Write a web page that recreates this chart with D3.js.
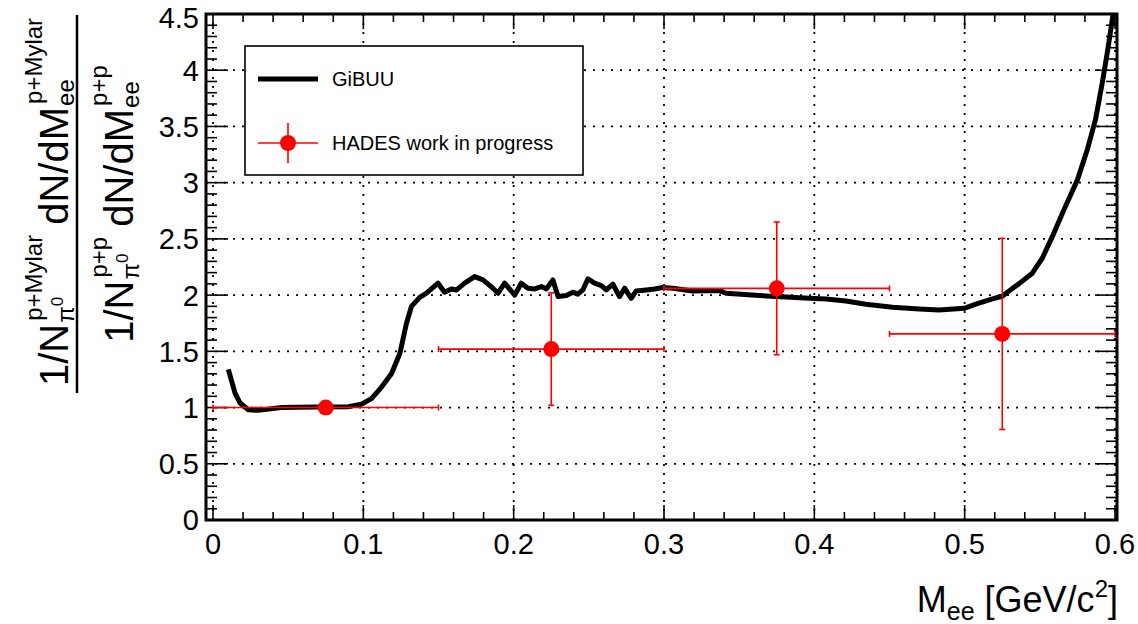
<!DOCTYPE html>
<html><head><meta charset="utf-8">
<script src="https://cdn.jsdelivr.net/npm/d3@7"></script>
<style>
body{margin:0;background:#fff}
svg{display:block}
text{font-family:"Liberation Sans",Arial,Helvetica,sans-serif;fill:#000}
</style>
</head><body>
<svg id="c" width="1138" height="624"></svg>
<script>
// ---------- data ----------
const gibuuX = [0.0102,0.0146,0.018,0.0235,0.030,0.0456,0.068,0.090,0.0988,0.1054,0.112,0.1187,0.1243,0.1287,0.132,0.1375,0.142,0.1497,0.154,0.1586,0.162,0.1674,0.174,0.1796,0.185,0.1896,0.194,0.2007,0.205,0.2095,0.214,0.2184,0.2217,0.2261,0.2295,0.235,0.2394,0.2427,0.246,0.2494,0.2538,0.2583,0.2616,0.266,0.2704,0.2738,0.2782,0.2815,0.2882,0.2937,0.2992,0.3059,0.319,0.337,0.3413,0.3635,0.3745,0.3967,0.4078,0.421,0.4343,0.452,0.4698,0.483,0.4997,0.5074,0.5185,0.525,0.5318,0.536,0.545,0.5517,0.5583,0.566,0.575,0.5815,0.587,0.5915,0.5948,0.5982,0.6005];
const gibuuY = [1.34,1.13,1.04,0.98,0.975,1.0,1.005,1.008,1.03,1.08,1.18,1.30,1.48,1.75,1.90,1.98,2.017,2.106,2.025,2.055,2.046,2.106,2.165,2.135,2.076,2.017,2.106,2.0,2.106,2.061,2.055,2.076,2.055,2.135,1.987,1.996,2.026,2.008,2.046,2.144,2.106,2.085,2.046,2.097,1.987,2.061,1.972,2.037,2.046,2.055,2.067,2.061,2.037,2.04,2.017,1.996,1.987,1.972,1.966,1.948,1.919,1.892,1.877,1.868,1.883,1.919,1.966,1.99,2.06,2.10,2.195,2.33,2.52,2.758,3.025,3.29,3.56,3.885,4.15,4.45,4.65];

const hadesX    = [0.075, 0.225, 0.375, 0.525];
const hadesY    = [1.00, 1.52, 2.06, 1.655];
const hadesXErr = [0.075, 0.075, 0.075, 0.075];
const hadesYErr = [0.00, 0.50, 0.59, 0.85];

const xTickValues = [0, 0.1, 0.2, 0.3, 0.4, 0.5, 0.6];
const xTickLabels = ["0", "0.1", "0.2", "0.3", "0.4", "0.5", "0.6"];
const yTickValues = [0, 0.5, 1, 1.5, 2, 2.5, 3, 3.5, 4, 4.5];
const yTickLabels = ["0", "0.5", "1", "1.5", "2", "2.5", "3", "3.5", "4", "4.5"];
const legendLabels = ["GiBUU", "HADES work in progress"];

// ---------- setup ----------
const svg = d3.select("#c");
const X0 = 206, X1 = 1117, Y0 = 520, Y1 = 14;
const x = d3.scaleLinear().domain([-0.00466, 0.60133]).range([X0, X1]);
const y = d3.scaleLinear().domain([0, 4.5]).range([Y0, Y1]);
const RED = "#ff0000";

svg.append("defs").append("clipPath").attr("id", "plotclip")
  .append("rect").attr("x", X0).attr("y", Y1).attr("width", X1 - X0).attr("height", Y0 - Y1);

// grid
const grid = svg.append("g").attr("stroke", "#000").attr("stroke-width", 1.8).attr("stroke-dasharray", "2,7");
grid.selectAll("line.vx").data(xTickValues).join("line")
  .attr("x1", d => x(d)).attr("x2", d => x(d)).attr("y1", Y0).attr("y2", Y1);
grid.selectAll("line.hy").data(yTickValues).join("line")
  .attr("y1", d => y(d)).attr("y2", d => y(d)).attr("x1", X0).attr("x2", X1);

// ticks
const xMinor = d3.range(0, 31).map(i => i * 0.02);
const yMinor = d3.range(0, 46).map(i => i * 0.1);
const isMajX = v => Math.abs(v * 10 - Math.round(v * 10)) < 1e-6;
const isMajY = v => Math.abs(v * 2 - Math.round(v * 2)) < 1e-6;
const ticks = svg.append("g").attr("stroke", "#000").attr("stroke-width", 1.6);
xMinor.forEach(v => {
  const L = isMajX(v) ? 15 : 8;
  ticks.append("line").attr("x1", x(v)).attr("x2", x(v)).attr("y1", Y0).attr("y2", Y0 - L);
  ticks.append("line").attr("x1", x(v)).attr("x2", x(v)).attr("y1", Y1).attr("y2", Y1 + L);
});
yMinor.forEach(v => {
  const L = isMajY(v) ? 22 : 11;
  ticks.append("line").attr("y1", y(v)).attr("y2", y(v)).attr("x1", X0).attr("x2", X0 + L);
  ticks.append("line").attr("y1", y(v)).attr("y2", y(v)).attr("x1", X1).attr("x2", X1 - L);
});

// tick labels
svg.append("g").selectAll("text").data(xTickValues).join("text")
  .attr("x", d => x(d)).attr("y", 554).attr("text-anchor", "middle")
  .attr("font-size", 29).text((d, i) => xTickLabels[i]);
svg.append("g").selectAll("text").data(yTickValues).join("text")
  .attr("x", 199).attr("y", d => Math.max(y(d), 18)).attr("dy", "0.36em").attr("text-anchor", "end")
  .attr("font-size", 29).text((d, i) => yTickLabels[i]);

// GiBUU curve
const pts = gibuuX.map((v, i) => [v, gibuuY[i]]);
svg.append("path").datum(pts).attr("clip-path", "url(#plotclip)")
  .attr("fill", "none").attr("stroke", "#000").attr("stroke-width", 5)
  .attr("stroke-linejoin", "round")
  .attr("d", d3.line().x(d => x(d[0])).y(d => y(d[1])));

// HADES points
const hd = hadesX.map((v, i) => ({x: v, y: hadesY[i], xe: hadesXErr[i], ye: hadesYErr[i]}));
const hg = svg.append("g").attr("stroke", RED).attr("stroke-width", 1.6);
hd.forEach(d => {
  const cy = y(d.y), xl = x(d.x - d.xe), xr = x(d.x + d.xe);
  hg.append("line").attr("x1", xl).attr("x2", xr).attr("y1", cy).attr("y2", cy);
  hg.append("line").attr("x1", xl).attr("x2", xl).attr("y1", cy - 3).attr("y2", cy + 3);
  hg.append("line").attr("x1", xr).attr("x2", xr).attr("y1", cy - 3).attr("y2", cy + 3);
  if (d.ye > 0) {
    const cx = x(d.x), yt = y(d.y + d.ye), yb = y(d.y - d.ye);
    hg.append("line").attr("x1", cx).attr("x2", cx).attr("y1", yt).attr("y2", yb);
    hg.append("line").attr("x1", cx - 3).attr("x2", cx + 3).attr("y1", yt).attr("y2", yt);
    hg.append("line").attr("x1", cx - 3).attr("x2", cx + 3).attr("y1", yb).attr("y2", yb);
  }
});
svg.append("g").selectAll("circle").data(hd).join("circle")
  .attr("cx", d => x(d.x)).attr("cy", d => y(d.y)).attr("r", 8).attr("fill", RED);

// frame
svg.append("rect").attr("x", X0).attr("y", Y1).attr("width", X1 - X0).attr("height", Y0 - Y1)
  .attr("fill", "none").attr("stroke", "#000").attr("stroke-width", 3);

// legend
const lg = svg.append("g");
lg.append("rect").attr("x", 245).attr("y", 46).attr("width", 338).attr("height", 129)
  .attr("fill", "#fff").attr("stroke", "#000").attr("stroke-width", 1.6);
lg.append("line").attr("x1", 258).attr("x2", 318).attr("y1", 79).attr("y2", 79)
  .attr("stroke", "#000").attr("stroke-width", 5);
lg.append("text").attr("x", 332).attr("y", 86).attr("font-size", 20).text(legendLabels[0]);
lg.append("line").attr("x1", 258).attr("x2", 318).attr("y1", 143).attr("y2", 143)
  .attr("stroke", RED).attr("stroke-width", 1.6);
lg.append("line").attr("x1", 288).attr("x2", 288).attr("y1", 123).attr("y2", 163)
  .attr("stroke", RED).attr("stroke-width", 1.6);
lg.append("circle").attr("cx", 288).attr("cy", 143).attr("r", 8).attr("fill", RED);
lg.append("text").attr("x", 332).attr("y", 150).attr("font-size", 20).text(legendLabels[1]);

// x-axis title
const xt = svg.append("text").attr("x", 1118).attr("y", 612).attr("text-anchor", "end").attr("font-size", 36);
xt.append("tspan").text("M");
xt.append("tspan").attr("font-size", 25).attr("dy", 8).text("ee");
xt.append("tspan").attr("dy", -8).text(" [GeV/c");
xt.append("tspan").attr("font-size", 24).attr("dy", -15).text("2");
xt.append("tspan").attr("dy", 15).text("]");

// y-axis title (fraction, rotated)
const F = 40, f = 24;
function fracLine(baseX, centerY, supTxt) {
  const g = svg.append("g");
  let cur = 0;
  function base(t) {
    const e = g.append("text").attr("x", cur).attr("y", 0).attr("font-size", F).text(t);
    cur += e.node().getComputedTextLength();
  }
  function script(sup, sub, subsup) {
    const s = g.append("text").attr("x", cur + 3).attr("y", -26).attr("font-size", f).text(sup);
    const b = g.append("text").attr("x", cur + 1).attr("y", 6).attr("font-size", f);
    b.append("tspan").text(sub);
    if (subsup) b.append("tspan").attr("font-size", 17).attr("dy", -11).text(subsup);
    cur += Math.max(s.node().getComputedTextLength() + 2, b.node().getComputedTextLength()) + 3;
  }
  base("1/N"); script(supTxt, "\u03c0", "0");
  cur += 8;
  base("dN/dM"); script(supTxt, "ee", null);
  g.attr("transform", `translate(${baseX},${centerY + cur / 2}) rotate(-90)`);
  return cur;
}
fracLine(68, 201, "p+Mylar");
fracLine(133, 203, "p+p");
svg.append("line").attr("x1", 77).attr("x2", 77).attr("y1", 15).attr("y2", 393)
  .attr("stroke", "#000").attr("stroke-width", 2.5);
</script>
</body></html>
